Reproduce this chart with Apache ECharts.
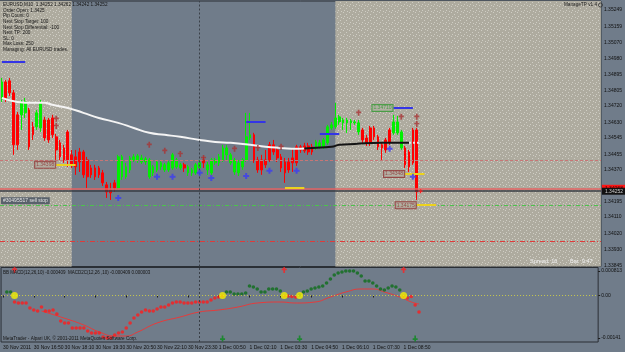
<!DOCTYPE html>
<html><head><meta charset="utf-8">
<script src="https://cdn.jsdelivr.net/npm/echarts@6/dist/echarts.min.js"></script>
<style>html,body{margin:0;padding:0;background:#707c8a;}#c{width:625px;height:352px;}</style>
</head><body><div id="c"></div>
<script>
const barCount = 155;
const timeLabels = ['30 Nov 2011','30 Nov 16:50','30 Nov 18:10','30 Nov 19:30','30 Nov 20:50','30 Nov 22:10','30 Nov 23:30','1 Dec 00:50','1 Dec 02:10','1 Dec 03:30','1 Dec 04:50','1 Dec 06:10','1 Dec 07:30','1 Dec 08:50'];
const mainTickValues = [1.35249,1.35159,1.35070,1.34980,1.34895,1.34805,1.34720,1.34630,1.34545,1.34455,1.34370,1.34195,1.34110,1.34020,1.33930,1.33845];
const macdTickValues = [0.000813, 0, -0.00141];
const macdTickTexts = ['0.000813','0.00','-0.00141'];
// [open, close, low, high]
const candles = [
[1.34760,1.34853,1.34743,1.34875],[1.34853,1.34760,1.34743,1.34864],[1.34859,1.34793,1.34776,1.34875],[1.34793,1.34507,1.34452,1.34809],
[1.34672,1.34507,1.34479,1.34688],[1.34672,1.34738,1.34589,1.34754],[1.34683,1.34743,1.34655,1.34765],[1.34699,1.34496,1.34479,1.34710],
[1.34606,1.34562,1.34534,1.34633],[1.34606,1.34683,1.34589,1.34699],[1.34600,1.34738,1.34578,1.34754],[1.34644,1.34545,1.34529,1.34661],
[1.34644,1.34534,1.34518,1.34655],[1.34655,1.34562,1.34545,1.34672],[1.34551,1.34479,1.34424,1.34567],[1.34518,1.34441,1.34424,1.34534],
[1.34490,1.34424,1.34408,1.34507],[1.34578,1.34424,1.34386,1.34589],[1.34452,1.34397,1.34380,1.34479],[1.34441,1.34386,1.34342,1.34479],
[1.34468,1.34413,1.34358,1.34490],[1.34468,1.34342,1.34325,1.34479],[1.34424,1.34331,1.34270,1.34441],[1.34380,1.34342,1.34325,1.34397],
[1.34380,1.34331,1.34314,1.34397],[1.34380,1.34342,1.34325,1.34391],[1.34353,1.34298,1.34281,1.34369],[1.34287,1.34248,1.34215,1.34303],
[1.34259,1.34243,1.34204,1.34298],[1.34298,1.34270,1.34248,1.34314],[1.34270,1.34441,1.34259,1.34452],[1.34331,1.34441,1.34314,1.34452],
[1.34331,1.34386,1.34320,1.34408],[1.34369,1.34435,1.34353,1.34446],[1.34424,1.34441,1.34413,1.34457],[1.34424,1.34446,1.34408,1.34457],
[1.34413,1.34435,1.34402,1.34452],[1.34413,1.34430,1.34397,1.34441],[1.34331,1.34424,1.34320,1.34435],[1.34353,1.34386,1.34336,1.34397],
[1.34369,1.34413,1.34358,1.34424],[1.34386,1.34408,1.34369,1.34424],[1.34369,1.34397,1.34358,1.34408],[1.34369,1.34408,1.34358,1.34419],
[1.34380,1.34452,1.34369,1.34463],[1.34386,1.34424,1.34375,1.34435],[1.34380,1.34397,1.34369,1.34408],[1.34397,1.34380,1.34358,1.34408],
[1.34353,1.34386,1.34336,1.34397],[1.34353,1.34369,1.34336,1.34380],[1.34353,1.34397,1.34342,1.34408],[1.34380,1.34408,1.34369,1.34424],
[1.34424,1.34408,1.34380,1.34441],[1.34369,1.34397,1.34342,1.34413],[1.34353,1.34424,1.34342,1.34435],[1.34408,1.34424,1.34397,1.34435],
[1.34408,1.34441,1.34391,1.34457],[1.34424,1.34490,1.34413,1.34507],[1.34452,1.34490,1.34424,1.34507],[1.34408,1.34452,1.34397,1.34463],
[1.34358,1.34424,1.34342,1.34435],[1.34353,1.34408,1.34336,1.34424],[1.34386,1.34424,1.34369,1.34435],[1.34424,1.34551,1.34413,1.34683],
[1.34545,1.34562,1.34534,1.34683],[1.34562,1.34424,1.34408,1.34573],[1.34424,1.34369,1.34353,1.34441],[1.34424,1.34369,1.34342,1.34452],
[1.34424,1.34397,1.34380,1.34479],[1.34507,1.34424,1.34413,1.34523],[1.34507,1.34468,1.34452,1.34534],[1.34479,1.34435,1.34413,1.34496],
[1.34441,1.34380,1.34358,1.34457],[1.34413,1.34353,1.34298,1.34435],[1.34413,1.34369,1.34353,1.34435],[1.34435,1.34408,1.34358,1.34490],
[1.34496,1.34408,1.34391,1.34507],[1.34496,1.34479,1.34463,1.34507],[1.34501,1.34474,1.34463,1.34518],[1.34501,1.34468,1.34452,1.34518],
[1.34496,1.34468,1.34452,1.34512],[1.34496,1.34523,1.34479,1.34534],[1.34496,1.34518,1.34485,1.34534],[1.34496,1.34534,1.34485,1.34545],
[1.34518,1.34606,1.34507,1.34617],[1.34600,1.34617,1.34589,1.34633],[1.34606,1.34655,1.34595,1.34738],[1.34633,1.34661,1.34617,1.34672],
[1.34628,1.34644,1.34589,1.34655],[1.34628,1.34644,1.34573,1.34655],[1.34628,1.34639,1.34589,1.34650],[1.34628,1.34633,1.34617,1.34644],
[1.34578,1.34628,1.34562,1.34644],[1.34589,1.34534,1.34518,1.34600],[1.34545,1.34518,1.34501,1.34562],[1.34600,1.34518,1.34501,1.34611],
[1.34600,1.34551,1.34534,1.34611],[1.34551,1.34496,1.34479,1.34562],[1.34507,1.34490,1.34424,1.34518],[1.34534,1.34479,1.34463,1.34545],
[1.34589,1.34523,1.34507,1.34600],[1.34573,1.34633,1.34562,1.34672],[1.34573,1.34633,1.34562,1.34666],[1.34490,1.34578,1.34479,1.34589],
[1.34490,1.34397,1.34380,1.34501],[1.34468,1.34386,1.34358,1.34479],[1.34589,1.34408,1.34397,1.34600],[1.34589,1.34248,1.34204,1.34600],
[1.34252,1.34252,1.34242,1.34262]
];
const maWhite = [[0,1.34765],[4,1.34743],[8,1.34738],[11,1.34738],[13,1.34727],[17,1.34710],[21,1.34683],[25,1.34655],[30,1.34628],[34,1.34600],[38,1.34573],[42,1.34562],[46,1.34551],[51,1.34534],[55,1.34523],[59,1.34518],[64,1.34507],[68,1.34496],[72,1.34490],[76,1.34485],[78,1.34487]];
const maBlack = [[78,1.34487],[80,1.34490],[85,1.34496],[87,1.34507],[91,1.34512],[98,1.34518],[102,1.34518],[105,1.34518]];
const maWhiteTail = [[105,1.34518],[108,1.34518]];
const macd = ['-',0.000116,0.000116,-0.000216,-0.000249,-0.000249,-0.000249,-0.000415,-0.000481,-0.000514,-0.000382,
-0.000514,-0.000514,-0.000481,-0.000614,-0.000846,-0.000912,-0.000912,-0.001078,-0.001078,-0.001078,
-0.001078,-0.001178,-0.001244,-0.001244,-0.001244,-0.001377,-0.001410,-0.001410,-0.001311,-0.001244,
-0.001211,-0.001078,-0.000912,-0.000747,-0.000647,-0.000547,-0.000481,-0.000514,-0.000514,-0.000448,
-0.000382,-0.000382,-0.000315,-0.000249,-0.000216,-0.000216,-0.000249,-0.000249,-0.000249,-0.000216,
-0.000216,-0.000216,-0.000216,-0.000149,-0.000083,-0.000050,-0.000017,0.000116,0.000116,0.000050,
0.000050,0.000050,0.000083,0.000315,0.000282,0.000216,0.000116,0.000116,0.000216,0.000216,
0.000216,0.000149,-0.000017,-0.000017,-0.000033,-0.000050,0.000017,0.000116,0.000149,0.000216,
0.000249,0.000282,0.000315,0.000415,0.000547,0.000680,0.000747,0.000780,0.000813,0.000813,
0.000813,0.000747,0.000647,0.000481,0.000481,0.000415,0.000315,0.000216,0.000182,0.000249,
0.000315,0.000282,0.000182,-0.000017,-0.000083,-0.000033,-0.000315,-0.000547];
const macdSignal = [[10,-0.000514],[15,-0.000713],[21,-0.000979],[25,-0.001211],[29,-0.001344],[32,-0.001344],[35,-0.001211],[40,-0.000912],[46,-0.000713],[51,-0.000547],[56,-0.000481],[61,-0.000382],[66,-0.000249],[72,-0.000216],[76,-0.000249],[81,-0.000216],[85,-0.000050],[89,0.000116],[93,0.000216],[96,0.000216],[99,0.000116],[103,-0.000050],[106,-0.000216],[108,-0.000282]];
const crossBars = [3,57,73,77,104];
const sellSignalBars = [3,73,104];
const buySignalBars = [57,77,107];
const blueCrosses = [[30,1.34215],[40,1.34331],[44,1.34331],[51,1.34353],[54,1.34325],[63,1.34336],[69,1.34364],[76,1.34364],[100,1.34485],[106,1.34331]];
const redArrows = [[14,1.34650],[14,1.34611],[38,1.34507],[42,1.34474],[46,1.34457],[52,1.34435],[60,1.34485],[66,1.34490],[72,1.34496],[92,1.34683],[103,1.34661],[107,1.34661],[107,1.34622]];
const currentTick = [[108,1.34252]];
const blueLevels = [[0,6,1.34963],[63,68,1.34633],[82,87,1.34567],[101,106,1.34710]];
const yellowLevels = [[14,19,1.34397],[73,78,1.34270],[104,109,1.34347],[107,112,1.34175]];
const priceBoxes = [[14,1.34397,'1.34398','#8e2e2e'],[101,1.34710,'1.34710','#2f9a2f'],[104,1.34347,'1.34348','#8e2e2e'],[107,1.34175,'1.34175','#8e2e2e']];
const askPrice = 1.34268, bidPrice = 1.34252;
const hLevels = {pink:1.34420, sellStop:1.34175, redStop:1.33975};
const infoLines = ['EURUSD,M10  1.34252 1.34262 1.34242 1.34252','Order Open: 1.3425','Pip Count: 0','Next Stop Target: 100','Next Stop Differential: -100','Next TP: 200','SL: 0','Max Loss: 250','Managing: All EURUSD trades.'];

const slots = Array.from({length: barCount}, (_, i) => String(i));
const tile = document.createElement('canvas'); tile.width = 6; tile.height = 6;
const tg = tile.getContext('2d');
tg.fillStyle = '#aeab9f'; tg.fillRect(0,0,6,6);
tg.fillStyle = '#cfcdc4'; tg.fillRect(1,0,1,1); tg.fillRect(4,2,1,1); tg.fillRect(2,4,1,1); tg.fillRect(5,5,1,1);
const beige = {image: tile, repeat: 'repeat'};

const chart = echarts.init(document.getElementById('c'));
const plusPath = 'path://M2,0h2v2h2v2h-2v2h-2v-2h-2v-2h2z';
const arrowPath = 'path://M2,0h2v2h2v2h-2v3h-2v-3h-2v-2h2z';
const tinyFont = 'Liberation Sans';
const lblEvery = 8;
const showLbl = (i) => i % lblEvery === 0 && i / lblEvery < timeLabels.length;
const xLo = -0.5, xHi = barCount - 0.5;

const segLines = (arr, color, w) => arr.map(s => [
  {coord: [s[0], s[2]], lineStyle: {color: color, width: w, type: 'solid'}},
  {coord: [s[1], s[2]]}
]);
const fullLine = (price, lineStyle, label) => [
  Object.assign({coord: [xLo, price], lineStyle: lineStyle}, label ? {label: label} : {}),
  {coord: [xHi, price]}
];

const option = {
  backgroundColor: '#707c8a',
  animation: false,
  textStyle: {fontFamily: tinyFont},
  grid: [
    {left: 0, right: 20, top: 1, bottom: 85.5, show: true, borderColor: '#2a2f35', borderWidth: 1, backgroundColor: 'transparent'},
    {left: 0, right: 20, top: 267.5, bottom: 10, show: true, borderColor: '#2a2f35', borderWidth: 1, backgroundColor: 'transparent'}
  ],
  xAxis: [
    {type: 'category', gridIndex: 0, data: slots, boundaryGap: true, axisLine: {show: false}, axisTick: {show: false}, axisLabel: {show: false}},
    {type: 'category', gridIndex: 1, data: slots, boundaryGap: true, axisLine: {show: false},
      axisTick: {show: true, interval: showLbl, alignWithLabel: true, length: 2, lineStyle: {color: '#1c1c1c'}},
      axisLabel: {interval: showLbl, formatter: (v, i) => timeLabels[i / lblEvery] || '', fontSize: 5, color: '#111', align: 'left', margin: 3, fontFamily: tinyFont}},
    {type: 'value', gridIndex: 0, min: xLo, max: xHi, show: false}
  ],
  yAxis: [
    {type: 'value', gridIndex: 0, position: 'right', min: 1.33838, max: 1.35298, splitLine: {show: false}, axisLine: {show: false},
      axisTick: {show: true, customValues: mainTickValues, length: 2, lineStyle: {color: '#1c1c1c'}},
      axisLabel: {customValues: mainTickValues, formatter: v => v.toFixed(5), fontSize: 5, color: '#111', margin: 3, fontFamily: tinyFont}},
    {type: 'value', gridIndex: 1, position: 'right', min: -0.001543, max: 0.000929, splitLine: {show: false}, axisLine: {show: false},
      axisTick: {show: true, customValues: macdTickValues, length: 2, lineStyle: {color: '#1c1c1c'}},
      axisLabel: {customValues: macdTickValues, formatter: v => { const k = macdTickValues.findIndex(t => Math.abs(t - v) < 1e-7); return k >= 0 ? macdTickTexts[k] : ''; }, fontSize: 5, color: '#111', margin: 3, fontFamily: tinyFont}}
  ],
  series: [
    {type: 'line', name: 'shade', xAxisIndex: 2, yAxisIndex: 0, data: [[xLo, 1.345]], showSymbol: false, lineStyle: {width: 0, opacity: 0}, silent: true, z: 0,
      markArea: {silent: true, itemStyle: {color: beige}, data: [[{xAxis: xLo}, {xAxis: 18}], [{xAxis: 86}, {xAxis: xHi}]]}},
    {type: 'line', name: 'levels', xAxisIndex: 2, yAxisIndex: 0, data: [[xLo, 1.345]], showSymbol: false, lineStyle: {width: 0, opacity: 0}, silent: true, z: 2,
      markLine: {symbol: 'none', silent: true, label: {show: false}, animation: false, data: [
        fullLine(hLevels.pink, {color: '#c77676', type: [3, 2], width: 1}),
        fullLine(hLevels.sellStop, {color: '#4cc24c', type: [4, 2, 1, 2], width: 1},
          {show: true, position: 'insideStartTop', distance: 1, formatter: '#30495517 sell stop', backgroundColor: '#59616b', color: '#e4e4e4', fontSize: 5, padding: [1, 2]}),
        fullLine(hLevels.redStop, {color: '#e03a3a', type: [5, 2, 1, 2], width: 1}),
        fullLine(askPrice, {color: '#e36262', type: 'solid', width: 1.5},
          {show: true, position: 'end', distance: 1, formatter: askPrice.toFixed(5), backgroundColor: '#ff1414', color: '#3a0000', fontSize: 5, padding: [1, 3]}),
        fullLine(bidPrice, {color: '#383d43', type: 'solid', width: 1.5},
          {show: true, position: 'end', distance: 1, formatter: bidPrice.toFixed(5), backgroundColor: '#111', color: '#cfcfcf', fontSize: 5, padding: [1, 3]})
      ]}},
    {type: 'candlestick', xAxisIndex: 0, yAxisIndex: 0, data: candles, barWidth: 2.2, z: 3,
      itemStyle: {color: '#00f000', color0: '#ff0000', borderColor: '#00f000', borderColor0: '#ff0000', borderColorDoji: '#ff2020', borderWidth: 1},
      markLine: {symbol: 'none', silent: true, label: {show: false}, animation: false, data: [
        {xAxis: 51, lineStyle: {color: '#3a4048', type: [2, 2], width: 1}},
        ...segLines(blueLevels, '#3434e6', 2),
        ...segLines(yellowLevels, '#ecd21e', 2)
      ]}},
    {type: 'line', xAxisIndex: 0, yAxisIndex: 0, data: maWhite, smooth: true, showSymbol: false, lineStyle: {color: '#f4f4f4', width: 2}, z: 4, silent: true},
    {type: 'line', xAxisIndex: 0, yAxisIndex: 0, data: maBlack, smooth: true, showSymbol: false, lineStyle: {color: '#141414', width: 2}, z: 4, silent: true},
    {type: 'line', xAxisIndex: 0, yAxisIndex: 0, data: maWhiteTail, showSymbol: false, lineStyle: {color: '#e8e8e8', width: 2, type: [2, 2]}, z: 4, silent: true},
    {type: 'scatter', xAxisIndex: 0, yAxisIndex: 0, data: blueCrosses, symbol: plusPath, symbolSize: 6, itemStyle: {color: '#3c3cf2'}, z: 5, silent: true},
    {type: 'scatter', xAxisIndex: 0, yAxisIndex: 0, data: redArrows, symbol: arrowPath, symbolSize: [5, 6], itemStyle: {color: '#a83434'}, z: 5, silent: true},
    {type: 'scatter', xAxisIndex: 0, yAxisIndex: 0, data: currentTick, symbol: plusPath, symbolSize: 4, itemStyle: {color: '#ff2020'}, z: 5, silent: true},
    {type: 'scatter', xAxisIndex: 0, yAxisIndex: 0, symbolSize: 0, z: 6, silent: true,
      data: priceBoxes.map(b => ({value: [b[0], b[1]], label: {formatter: b[2], color: b[3], borderColor: b[3]}})),
      label: {show: true, position: 'left', distance: 1, fontSize: 5, borderWidth: 1, padding: [1, 1, 0, 1], backgroundColor: '#b3b0a4'}},
    {type: 'line', xAxisIndex: 1, yAxisIndex: 1, data: macdSignal, smooth: true, showSymbol: false, lineStyle: {color: '#e83a3a', width: 1}, z: 3, silent: true},
    {type: 'scatter', xAxisIndex: 1, yAxisIndex: 1, data: macd, symbol: 'circle', symbolSize: 3.6, z: 4, silent: true,
      itemStyle: {color: p => (p.value >= 0 ? '#0e6e19' : '#ff1c1c')},
      markLine: {symbol: 'none', silent: true, label: {show: false}, data: [
        {yAxis: 0, lineStyle: {color: '#c8c84c', type: [1, 2], width: 1}},
        {xAxis: 51, lineStyle: {color: '#3a4048', type: [2, 2], width: 1}}
      ]}},
    {type: 'scatter', xAxisIndex: 1, yAxisIndex: 1, data: crossBars.map(b => [b, 0]), symbol: 'circle', symbolSize: 7, itemStyle: {color: '#f2f000'}, z: 5, silent: true},
    {type: 'scatter', xAxisIndex: 1, yAxisIndex: 1, data: sellSignalBars.map(b => [b, 0.00085]), symbol: arrowPath, symbolSize: [5, 6], itemStyle: {color: '#ff2020'}, z: 5, silent: true},
    {type: 'scatter', xAxisIndex: 1, yAxisIndex: 1, data: buySignalBars.map(b => [b, -0.00143]), symbol: arrowPath, symbolSize: [5, 6], symbolRotate: 180, itemStyle: {color: '#0a8a1c'}, z: 5, silent: true}
  ],
  graphic: [
    ...infoLines.map((t, i) => ({type: 'text', z: 100, x: 3, y: i === 0 ? 5 : 10.3 + (i - 1) * 5.65, silent: true,
      style: {text: t, fill: '#161616', font: '4.7px "' + tinyFont + '"', verticalAlign: 'middle', align: 'left'}})),
    {type: 'text', z: 100, x: 597, y: 5, silent: true, style: {text: 'ManageTP v1.4', fill: '#1c1c1c', font: '4.7px "' + tinyFont + '"', verticalAlign: 'middle', align: 'right'}},
    {type: 'circle', z: 100, shape: {cx: 600.5, cy: 5, r: 2}, silent: true, style: {fill: 'none', stroke: '#333', lineWidth: 0.8}},
    {type: 'text', z: 100, x: 530, y: 261, silent: true, style: {text: 'Spread: 16', fill: '#f2f2f2', font: '5.6px "' + tinyFont + '"', verticalAlign: 'middle'}},
    {type: 'text', z: 100, x: 570, y: 261, silent: true, style: {text: 'Bar  9:47', fill: '#f2f2f2', font: '5.6px "' + tinyFont + '"', verticalAlign: 'middle'}},
    {type: 'text', z: 100, x: 3, y: 273, silent: true, style: {text: 'BB MACD(12,26,10) -0.000409  MACD2C(12,26 ,10) -0.000409 0.000003', fill: '#161616', font: '4.5px "' + tinyFont + '"', verticalAlign: 'middle'}},
    {type: 'text', z: 100, x: 3, y: 339, silent: true, style: {text: 'MetaTrader - Alpari UK, \u00a9 2001-2011 MetaQuotes Software Corp.', fill: '#161616', font: '4.6px "' + tinyFont + '"', verticalAlign: 'middle'}}
  ]
};
chart.setOption(option);
</script>
</body></html>
